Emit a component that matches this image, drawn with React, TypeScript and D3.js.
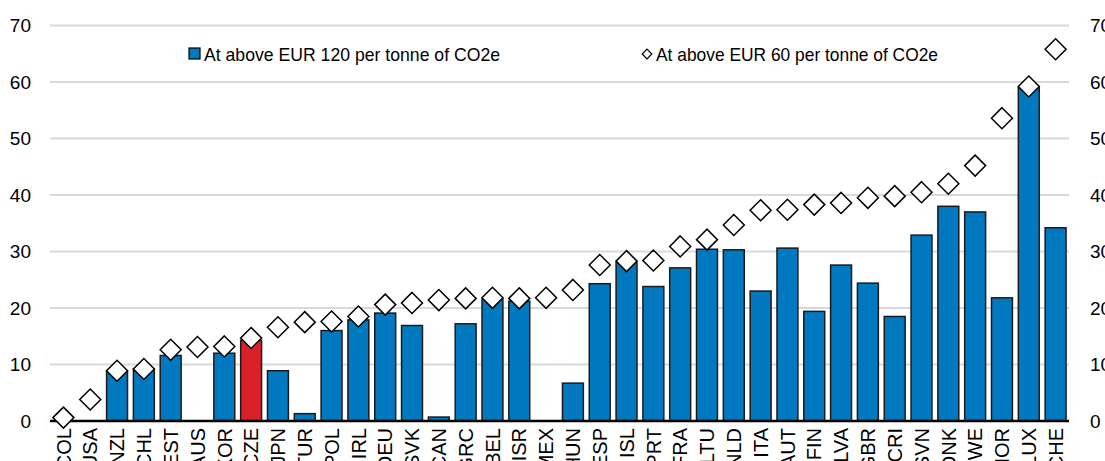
import React from "react";
import * as d3 from "d3";

const categories = ["COL","USA","NZL","CHL","EST","AUS","KOR","CZE","JPN","TUR","POL","IRL","DEU","SVK","CAN","GRC","BEL","ISR","MEX","HUN","ESP","ISL","PRT","FRA","LTU","NLD","ITA","AUT","FIN","LVA","GBR","CRI","SVN","DNK","SWE","NOR","LUX","CHE"];
const above120 = [0,0,8.8,9.2,11.6,0,12.0,14.3,8.9,1.3,16.0,17.9,19.1,16.9,0.7,17.2,21.6,21.2,0,6.7,24.3,28.1,23.8,27.1,30.4,30.3,23.0,30.6,19.4,27.6,24.4,18.5,32.9,38.0,37.0,21.8,59.0,34.2];
const above60 = [0.6,3.8,8.9,9.2,12.6,13.1,13.2,14.7,16.6,17.5,17.6,18.5,20.6,20.9,21.4,21.7,21.8,21.7,21.8,23.2,27.6,28.3,28.4,30.9,32.1,34.7,37.3,37.4,38.3,38.6,39.5,39.8,40.5,42.0,45.2,53.6,59.2,65.8];
const yTicks = [0,10,20,30,40,50,60,70];
const legendLabels = ["At above EUR 120 per tonne of CO2e", "At above EUR 60 per tonne of CO2e"];
const highlight = "CZE";

const W = 1105, H = 461;
const left = 50, right = 1069, top = 25.5, bottom = 421;
const BLUE = "#0179C0";
const RED = "#D9212A";
const FONT = "'Liberation Sans', Arial, sans-serif";

export default function App() {
  const x = d3.scaleBand<string>().domain(categories).range([left, right]).paddingInner(0.22).paddingOuter(0.11);
  const y = d3.scaleLinear().domain([0, 70]).range([bottom, top]);
  const bw = x.bandwidth();
  const dr = 10.5;
  const diamond = (cx: number, cy: number, r: number) =>
    `M${cx},${cy - r}L${cx + r},${cy}L${cx},${cy + r}L${cx - r},${cy}Z`;

  return (
    <svg width={W} height={H} style={{ position: "absolute", left: 0, top: 0, background: "#fff" }} fontFamily={FONT}>
      {yTicks.filter(t => t > 0).map(t => (
        <line key={"g" + t} x1={left} x2={right} y1={y(t)} y2={y(t)} stroke="#d9d9d9" strokeWidth={2} />
      ))}
      {yTicks.map(t => (
        <g key={"t" + t}>
          <text x={31} y={y(t)} dy="0.36em" textAnchor="end" fontSize={19} fill="#000">{t}</text>
          <text x={1090} y={y(t)} dy="0.36em" textAnchor="start" fontSize={19} fill="#000">{t}</text>
        </g>
      ))}
      {categories.map((c, i) => above120[i] > 0 ? (
        <rect key={"b" + c} x={x(c)!} y={y(above120[i])} width={bw} height={y(0) - y(above120[i])}
          fill={c === highlight ? RED : BLUE} stroke="#1a1a1a" strokeWidth={1.5} />
      ) : null)}
      <line x1={left} x2={right} y1={y(0)} y2={y(0)} stroke="#000" strokeWidth={2.5} />
      {categories.map((c, i) => (
        <path key={"d" + c} d={diamond(x(c)! + bw / 2, y(above60[i]), dr)} fill="#fff" stroke="#000" strokeWidth={1.5} />
      ))}
      {categories.map(c => (
        <text key={"l" + c} transform={`translate(${x(c)! + bw / 2},428) rotate(-90)`} dy="0.36em"
          textAnchor="end" fontSize={20} fill="#000">{c}</text>
      ))}
      <rect x={189} y={48} width={11} height={11} fill={BLUE} stroke="#000" strokeWidth={1.2} />
      <text x={204} y={54} dy="0.36em" fontSize={19} textLength={296} lengthAdjust="spacingAndGlyphs" fill="#000">{legendLabels[0]}</text>
      <path d={diamond(647, 54, 4.8)} fill="#fff" stroke="#000" strokeWidth={1.2} />
      <text x={656} y={54} dy="0.36em" fontSize={19} textLength={282} lengthAdjust="spacingAndGlyphs" fill="#000">{legendLabels[1]}</text>
    </svg>
  );
}
